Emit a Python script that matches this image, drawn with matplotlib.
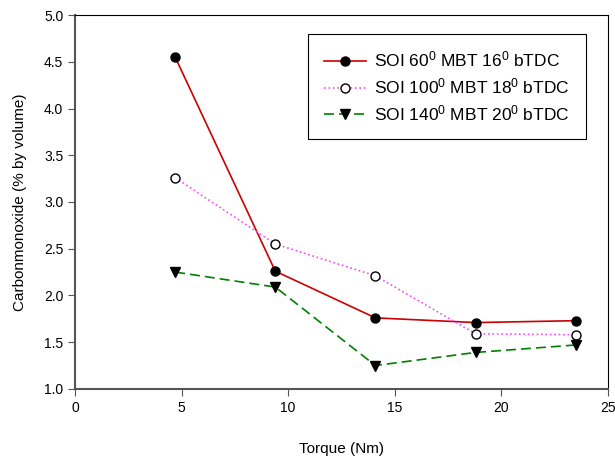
import matplotlib
matplotlib.use('Agg')
import matplotlib.pyplot as plt

plt.rcParams['font.family'] = ['Liberation Sans', 'DejaVu Sans']
plt.rcParams['mathtext.fontset'] = 'custom'
plt.rcParams['mathtext.rm'] = 'Liberation Sans'
plt.rcParams['mathtext.default'] = 'regular'

# torque (Nm)
torque = [4.7, 9.4, 14.1, 18.8, 23.5]
# carbon monoxide (% by volume)
co_soi60 = [4.55, 2.26, 1.76, 1.71, 1.73]
co_soi100 = [3.26, 2.55, 2.21, 1.59, 1.58]
co_soi140 = [2.25, 2.09, 1.25, 1.39, 1.47]

labels = ['SOI 60$^0$ MBT 16$^0$ bTDC',
          'SOI 100$^0$ MBT 18$^0$ bTDC',
          'SOI 140$^0$ MBT 20$^0$ bTDC']

fig = plt.figure(figsize=(6.15, 4.57), dpi=100)
ax = fig.add_axes([0.122, 0.149, 0.866, 0.818])

ax.plot(torque, co_soi60, color='#cc0000', lw=1.2, marker='o', ms=6.5,
        mfc='black', mec='black', label=labels[0])
ax.plot(torque, co_soi100, color='#ff44ff', lw=1.2, ls=':', marker='o', ms=6.5,
        mfc='white', mec='black', label=labels[1])
ax.plot(torque, co_soi140, color='#008000', lw=1.2, ls=(0, (6, 3)), marker='v', ms=7.5,
        mfc='black', mec='black', label=labels[2])

ax.set_xlim(0, 25)
ax.set_ylim(1.0, 5.0)
ax.set_xticks([0, 5, 10, 15, 20, 25])
ax.set_yticks([1.0, 1.5, 2.0, 2.5, 3.0, 3.5, 4.0, 4.5, 5.0])
ax.set_yticklabels(['%.1f' % v for v in ax.get_yticks()])
ax.tick_params(direction='out', length=5, labelsize=10, color='#555555')
for s in ['left', 'bottom']:
    ax.spines[s].set_color('#555555')
    ax.spines[s].set_linewidth(1.5)

ax.set_xlabel('Torque (Nm)', fontsize=11, labelpad=20)
ax.set_ylabel('Carbonmonoxide (% by volume)', fontsize=11, labelpad=12)

leg = ax.legend(loc='upper right', bbox_to_anchor=(0.975, 0.972), fontsize=12.5,
                fancybox=False, edgecolor='black', framealpha=1, handlelength=2.4,
                handletextpad=0.5, borderpad=0.9, labelspacing=0.4)
leg.get_frame().set_linewidth(0.8)

fig.savefig('out.png', dpi=100)
